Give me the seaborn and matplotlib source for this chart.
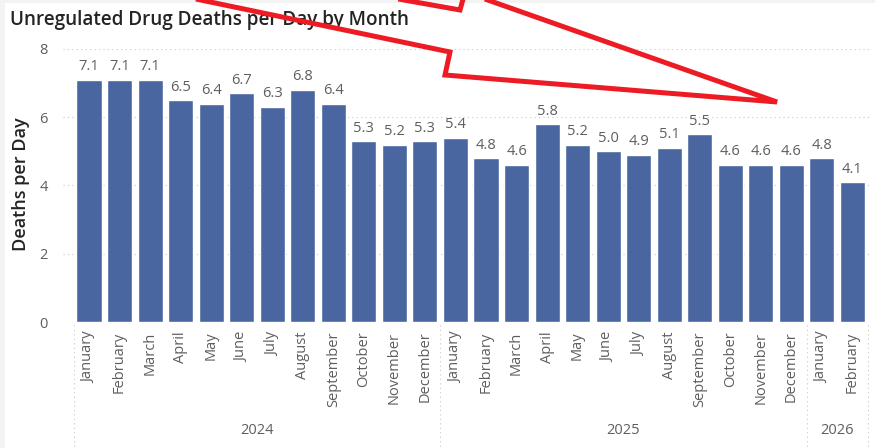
import numpy as np
import pandas as pd
import seaborn as sns
import matplotlib.pyplot as plt
from matplotlib.patches import Polygon, Rectangle
from matplotlib.transforms import blended_transform_factory

# Monthly data
years = ["2024"] * 12 + ["2025"] * 12 + ["2026"] * 2
months = [
    "January", "February", "March", "April", "May", "June",
    "July", "August", "September", "October", "November", "December",
    "January", "February", "March", "April", "May", "June",
    "July", "August", "September", "October", "November", "December",
    "January", "February",
]
deaths_per_day = [
    7.1, 7.1, 7.1, 6.5, 6.4, 6.7, 6.3, 6.8, 6.4, 5.3, 5.2, 5.3,
    5.4, 4.8, 4.6, 5.8, 5.2, 5.0, 4.9, 5.1, 5.5, 4.6, 4.6, 4.6,
    4.8, 4.1,
]
year_labels = ["2024", "2025", "2026"]
y_ticks = [0, 2, 4, 6, 8]

df = pd.DataFrame({
    "period": [f"{y}-{i:02d}" for i, y in enumerate(years)],
    "month": months,
    "year": years,
    "deaths": deaths_per_day,
})

BAR = "#4a66a0"
DARK = "#252423"
GREY = "#605e5c"
GRID = "#c8c6c4"
W, H = 875, 448

sns.set_theme(style="white")
plt.rcParams["font.family"] = ["Open Sans", "DejaVu Sans"]

fig = plt.figure(figsize=(W / 100, H / 100), dpi=100, facecolor="#f3f3f3")
fig.patches.append(Rectangle((5 / W, 0), 1, 1 - 3 / H, transform=fig.transFigure,
                             facecolor="white", edgecolor="none", zorder=-5))

ax = fig.add_axes([63 / W, 126 / H, 809 / W, 273 / H])
ax.set_facecolor("none")

sns.barplot(data=df, x="period", y="deaths", order=list(df["period"]),
            color=BAR, saturation=1, width=0.82, ax=ax)

ax.set_xlim(-0.851, 25.64)
ax.set_ylim(0, 8)

ax.bar_label(ax.containers[0], fmt="%.1f", padding=4, fontsize=10.5, color=GREY)

ax.set_xticks(range(len(months)))
ax.set_xticklabels(months, rotation=90)
ax.set_yticks(y_ticks)
ax.set_yticklabels([str(t) for t in y_ticks])
ax.tick_params(axis="x", length=0, pad=7, labelsize=10.5, labelcolor=GREY)
ax.tick_params(axis="y", length=0, pad=11, labelsize=10.5, labelcolor=GREY)
ax.set_xlabel("")
ax.set_ylabel("")

ax.yaxis.grid(True, color=GRID, linestyle=(0, (1, 3)), linewidth=0.8)
ax.xaxis.grid(False)
ax.set_axisbelow(True)
for s in ax.spines.values():
    s.set_visible(False)

# Year groups along the bottom
trans = blended_transform_factory(ax.transData, fig.transFigure)
for xv in [-0.5, 11.5, 23.5, 25.5]:
    ax.plot([xv, xv], [1 - 325 / H, 0], transform=trans, clip_on=False,
            color=GRID, linestyle=(0, (1, 3)), linewidth=0.8)
year_pos = {}
for i, y in enumerate(years):
    year_pos.setdefault(y, []).append(i)
for y in year_labels:
    ax.text(np.mean(year_pos[y]), 1 - 430 / H, y, transform=trans,
            ha="center", va="center", fontsize=10.5, color=GREY)

fig.text(21 / W, 1 - 184 / H, "Deaths per Day", rotation=90, ha="center",
         va="center", fontsize=13, weight="semibold", color=DARK)
fig.text(10 / W, 1 - 25 / H, "Unregulated Drug Deaths per Day by Month",
         ha="left", va="baseline", fontsize=13.6, weight="semibold", color=DARK)

# Red outline arrow drawn over the chart
arrow_px = [(303, -18), (460, 10), (465, -8), (777, 102),
            (445, 75), (450, 52), (100, -21)]
arrow_pts = [(x / W, 1 - y / H) for x, y in arrow_px]
fig.patches.append(Polygon(arrow_pts, closed=True, fill=False, edgecolor="#ed1c24",
                           linewidth=3.6, joinstyle="miter",
                           transform=fig.transFigure, zorder=10))

fig.savefig("out.png", dpi=100)
